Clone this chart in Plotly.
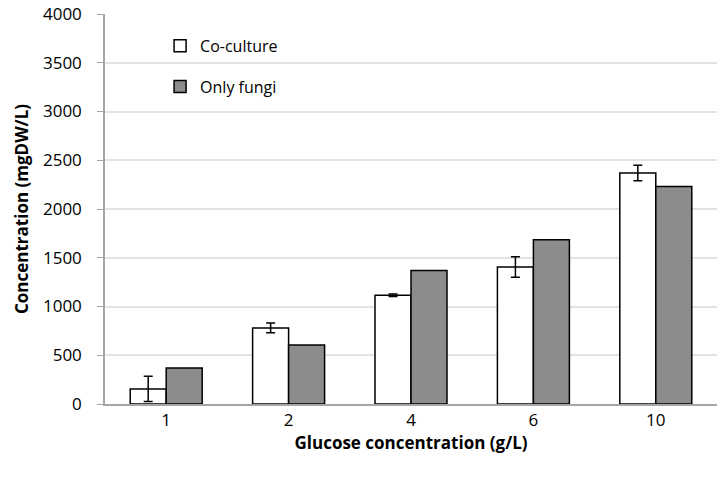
import plotly.graph_objects as go

glucose = ["1", "2", "4", "6", "10"]
coculture = [155, 780, 1115, 1405, 2370]
coculture_err = [130, 50, 12, 105, 80]
only_fungi = [370, 605, 1370, 1685, 2232]

FONT = "Open Sans"

fig = go.Figure()
fig.add_trace(go.Bar(
    name="Co-culture", x=glucose, y=coculture,
    marker=dict(color="white", line=dict(color="black", width=1.5)),
    error_y=dict(type="data", array=coculture_err, color="black", thickness=1.5, width=4.5),
    legendgroup="a",
))
fig.add_trace(go.Bar(
    name="Only fungi", x=glucose, y=only_fungi,
    marker=dict(color="#8c8c8c", line=dict(color="black", width=1.5)),
    legendgroup="b",
))

fig.update_layout(
    width=725, height=483,
    margin=dict(l=105, r=8, t=14, b=79, autoexpand=False),
    paper_bgcolor="white", plot_bgcolor="white",
    barmode="group", bargap=0.412, bargroupgap=0,
    font=dict(family=FONT, size=17, color="black"),
    showlegend=True,
    legend=dict(x=0.09, y=0.962, xanchor="left", yanchor="top",
                bgcolor="rgba(0,0,0,0)", font=dict(size=16),
                tracegroupgap=17, traceorder="grouped"),
    xaxis=dict(
        type="category", showline=True, linecolor="#a6a6a6", linewidth=1.5,
        ticks="", showgrid=False, automargin=False,
        title=dict(text="<b>Glucose concentration (g/L)</b>", font=dict(size=17), standoff=3),
    ),
    yaxis=dict(
        range=[0, 4000], dtick=500, showline=True, linecolor="#a6a6a6", linewidth=1.5,
        ticks="outside", ticklen=6, tickcolor="#a6a6a6", ticklabelstandoff=12,
        gridcolor="#e3e3e3", gridwidth=1.5, zeroline=False, automargin=False,
        title=dict(text="<b>Concentration (mgDW/L)</b>", font=dict(size=17), standoff=10),
    ),
)

fig.write_html("out.html")
